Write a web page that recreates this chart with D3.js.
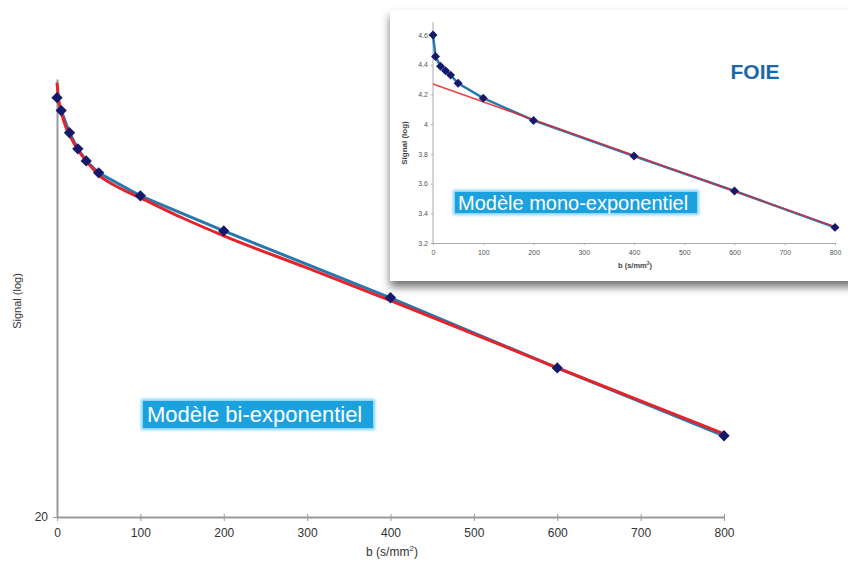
<!DOCTYPE html>
<html lang="fr">
<head>
<meta charset="UTF-8">
<script src="https://cdn.jsdelivr.net/npm/d3@7"></script>
<style>
    body { margin: 0; background: #fff; font-family: "Liberation Sans", Arial, sans-serif; }
</style>
</head>
<body>
<script>
    // valeurs
    var bValues = [0, 5, 15, 25, 35, 50, 100, 200, 400, 600, 800];
    var signalMain = [99.6, 94.8, 87.1, 81.9, 78.2, 74.7, 68.4, 59.8, 46.3, 35.4, 27.3];
    // courbe bi-exponentielle (lue point par point)
    var fitB = [0, 2, 5, 10, 15, 25, 35, 50, 75, 100, 150, 200, 300, 400, 500, 600, 700, 800];
    var fitMain = [105.5, 98.8, 94.4, 89.5, 86.4, 81.6, 78.2, 74.1, 70.5, 67.9, 62.9, 58.7, 51.9, 45.8, 40.3, 35.4, 31.2, 27.5];
    // encart : log du signal
    var signalLog = [4.60, 4.455, 4.39, 4.36, 4.33, 4.275, 4.175, 4.025, 3.785, 3.55, 3.305];
    var monoB = [0, 800];
    var monoLog = [4.27, 3.31];
    var xTicks = [0, 100, 200, 300, 400, 500, 600, 700, 800];
    var insetYTicks = [3.2, 3.4, 3.6, 3.8, 4, 4.2, 4.4, 4.6];

    var W = 848, H = 563;
    var svg = d3.select("body").append("svg").attr("width", W).attr("height", H);

    var defs = svg.append("defs");
    var sh = defs.append("filter").attr("id", "shadow").attr("x", "-10%").attr("y", "-10%").attr("width", "130%").attr("height", "130%");
    sh.append("feDropShadow").attr("dx", 0).attr("dy", 6).attr("stdDeviation", 4)
        .attr("flood-color", "#444").attr("flood-opacity", 0.75);
    var glow = defs.append("filter").attr("id", "glow").attr("x", "-10%").attr("y", "-30%").attr("width", "120%").attr("height", "160%");
    glow.append("feGaussianBlur").attr("stdDeviation", 1.5);

    var blue = "#2878b0", red = "#e3242b", navy = "#15196b";

    // ---- graphique principal ----
    var x = d3.scaleLinear().domain([0, 800]).range([57, 724]);
    var y = d3.scaleLog().domain([20, 107]).range([517, 79]);

    var main = svg.append("g");

    main.append("g")
        .attr("transform", "translate(0,517)")
        .call(d3.axisBottom(x).tickValues(xTicks).tickSize(4).tickSizeOuter(0))
        .call(g => g.select(".domain").attr("stroke", "#999").attr("stroke-width", 2))
        .call(g => g.selectAll(".tick line").attr("stroke", "#999").attr("y1", -3))
        .call(g => g.selectAll(".tick text").attr("fill", "#333").attr("font-size", 12)
            .attr("font-family", "Liberation Sans, Arial").attr("dy", "1.1em"));

    main.append("g")
        .attr("transform", "translate(57,0)")
        .call(d3.axisLeft(y).tickValues([20]).tickFormat(d3.format("d")).tickSize(4).tickSizeOuter(0))
        .call(g => g.select(".domain").attr("stroke", "#999").attr("stroke-width", 2))
        .call(g => g.selectAll(".tick line").attr("stroke", "#999"))
        .call(g => g.selectAll(".tick text").attr("fill", "#333").attr("font-size", 12)
            .attr("font-family", "Liberation Sans, Arial").attr("x", -9));

    main.append("text").attr("x", 392).attr("y", 556).attr("text-anchor", "middle")
        .attr("font-size", 12).attr("fill", "#333")
        .html('b (s/mm<tspan dy="-5" font-size="8">2</tspan><tspan dy="5">)</tspan>');
    main.append("text").attr("transform", "translate(21,301) rotate(-90)").attr("text-anchor", "middle")
        .attr("font-size", 11).attr("fill", "#333").text("Signal (log)");

    var dataMain = bValues.map((b, i) => ({b: b, v: signalMain[i]}));
    var fitData = fitB.map((b, i) => ({b: b, v: fitMain[i]}));

    main.append("path").datum(dataMain)
        .attr("fill", "none").attr("stroke", blue).attr("stroke-width", 3)
        .attr("d", d3.line().x(d => x(d.b)).y(d => y(d.v)));
    main.append("path").datum(fitData)
        .attr("fill", "none").attr("stroke", red).attr("stroke-width", 3)
        .attr("d", d3.line().curve(d3.curveMonotoneX).x(d => x(d.b)).y(d => y(d.v)));
    main.selectAll("path.pt").data(dataMain).enter().append("path")
        .attr("class", "pt")
        .attr("transform", d => "translate(" + x(d.b) + "," + y(d.v) + ") rotate(45)")
        .attr("d", d3.symbol(d3.symbolSquare, 64))
        .attr("fill", navy);

    var lab1 = main.append("g").attr("transform", "translate(143,401)");
    lab1.append("rect").attr("x", -2).attr("y", -2).attr("width", 234).attr("height", 31).attr("fill", "#7fd0f2").attr("filter", "url(#glow)");
    lab1.append("rect").attr("width", 230).attr("height", 27).attr("fill", "#1ba2de");
    lab1.append("text").attr("x", 4).attr("y", 21).attr("fill", "#fff").attr("font-size", 22)
        .attr("font-family", "Liberation Sans, Arial").text("Modèle bi-exponentiel");

    // ---- encart FOIE ----
    var inset = svg.append("g");
    inset.append("rect").attr("x", 390).attr("y", 10).attr("width", 480).attr("height", 271)
        .attr("fill", "#fff").attr("filter", "url(#shadow)");

    var xi = d3.scaleLinear().domain([0, 800]).range([433, 835]);
    var yi = d3.scaleLinear().domain([3.2, 4.6]).range([243, 35]);

    inset.append("g")
        .attr("transform", "translate(0,243)")
        .call(d3.axisBottom(xi).tickValues(xTicks).tickSize(2).tickSizeOuter(0))
        .call(g => g.select(".domain").attr("stroke", "#aaa"))
        .call(g => g.selectAll(".tick line").attr("stroke", "#aaa"))
        .call(g => g.selectAll(".tick text").attr("fill", "#555").attr("font-size", 7).attr("dy", "1em"));
    inset.append("g")
        .attr("transform", "translate(433,0)")
        .call(d3.axisLeft(yi).tickValues(insetYTicks).tickFormat(d3.format("~g")).tickSize(2).tickSizeOuter(0))
        .call(g => g.select(".domain").attr("stroke", "#aaa").attr("d", "M0,243V22"))
        .call(g => g.selectAll(".tick line").attr("stroke", "#aaa"))
        .call(g => g.selectAll(".tick text").attr("fill", "#555").attr("font-size", 7));

    inset.append("text").attr("x", 635).attr("y", 268).attr("text-anchor", "middle")
        .attr("font-size", 7.5).attr("font-weight", "bold").attr("fill", "#444")
        .html('b (s/mm<tspan dy="-3" font-size="5">2</tspan><tspan dy="3">)</tspan>');
    inset.append("text").attr("transform", "translate(407,143) rotate(-90)").attr("text-anchor", "middle")
        .attr("font-size", 8).attr("font-weight", "bold").attr("fill", "#444").text("Signal (log)");

    var dataLog = bValues.map((b, i) => ({b: b, v: signalLog[i]}));
    var monoData = monoB.map((b, i) => ({b: b, v: monoLog[i]}));

    inset.append("path").datum(dataLog)
        .attr("fill", "none").attr("stroke", blue).attr("stroke-width", 2.5)
        .attr("d", d3.line().x(d => xi(d.b)).y(d => yi(d.v)));
    inset.append("path").datum(monoData)
        .attr("fill", "none").attr("stroke", red).attr("stroke-width", 1.5).attr("stroke-opacity", 0.85)
        .attr("d", d3.line().x(d => xi(d.b)).y(d => yi(d.v)));
    inset.selectAll("path.pti").data(dataLog).enter().append("path")
        .attr("class", "pti")
        .attr("transform", d => "translate(" + xi(d.b) + "," + yi(d.v) + ") rotate(45)")
        .attr("d", d3.symbol(d3.symbolSquare, 40))
        .attr("fill", navy);

    inset.append("text").attr("x", 755).attr("y", 79).attr("text-anchor", "middle")
        .attr("font-size", 21).attr("font-weight", "bold").attr("fill", "#1c68a6").text("FOIE");

    var lab2 = inset.append("g").attr("transform", "translate(455,192)");
    lab2.append("rect").attr("x", -2).attr("y", -2).attr("width", 246).attr("height", 25).attr("fill", "#7fd0f2").attr("filter", "url(#glow)");
    lab2.append("rect").attr("width", 242).attr("height", 21).attr("fill", "#1ba2de");
    lab2.append("text").attr("x", 3).attr("y", 18).attr("fill", "#fff").attr("font-size", 20)
        .attr("font-family", "Liberation Sans, Arial").text("Modèle mono-exponentiel");
</script>
</body>
</html>
